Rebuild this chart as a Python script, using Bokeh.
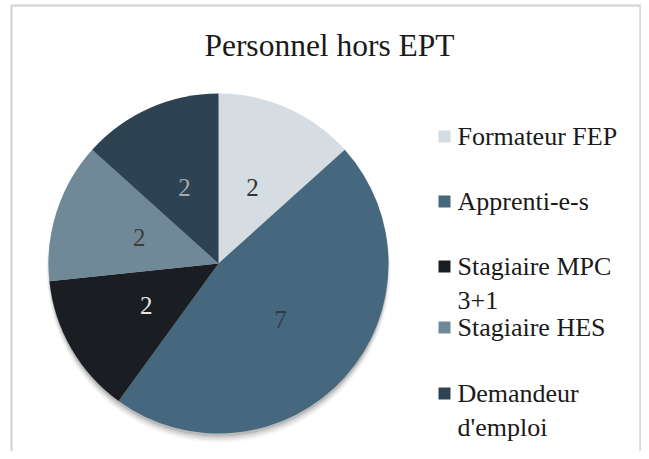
import math
from bokeh.plotting import figure
from bokeh.models import ColumnDataSource, Label, LabelSet
from bokeh.embed import file_html
from bokeh.resources import INLINE

# ---- data ----
title = "Personnel hors EPT"
categories = ["Formateur FEP", "Apprenti-e-s", "Stagiaire MPC 3+1", "Stagiaire HES", "Demandeur d'emploi"]
legend_labels = ["Formateur FEP", "Apprenti-e-s", "Stagiaire MPC\n3+1", "Stagiaire HES", "Demandeur\nd'emploi"]
values = [2, 7, 2, 2, 2]

# ---- styles ----
colors = ["#d5dce2", "#46687f", "#1a1e22", "#708999", "#2d4252"]
label_colors = ["#333333", "#2e3a44", "#e6e6e6", "#3c3c3c", "#a9a9a9"]
SERIF = "Liberation Serif"

W, H = 641, 451
p = figure(width=W, height=H, x_range=(0, W), y_range=(0, H),
           output_backend="svg", toolbar_location=None, min_border=0)
p.axis.visible = False
p.grid.visible = False
p.outline_line_color = None
p.background_fill_color = "white"
p.border_fill_color = "white"

# frame border
p.quad(left=[11], right=[640], top=[H - 5], bottom=[-20], fill_color=None,
       line_color="#d9d9d9", line_width=2.5)

cx, cy, R = 218, H - 263, 170

# angles (start at top, clockwise)
total = sum(values)
starts, ends, mids = [], [], []
a = math.pi / 2
for v in values:
    sweep = 2 * math.pi * v / total
    starts.append(a - sweep)
    ends.append(a)
    mids.append(a - sweep / 2)
    a -= sweep

# soft shadow under the pie
for off, rr, al in [(7, 172, 0.04), (6, 171, 0.06), (5, 170, 0.08), (3, 170, 0.12)]:
    p.circle(x=[cx], y=[cy - off], radius=rr, fill_color="black", fill_alpha=al, line_color=None)

src = ColumnDataSource(dict(cat=categories, val=values, start=starts, end=ends, color=colors))
p.wedge(x=cx, y=cy, radius=R, start_angle="start", end_angle="end",
        fill_color="color", line_color=None, source=src)

lr = 0.49 * R
lab = ColumnDataSource(dict(
    x=[cx + lr * math.cos(m) for m in mids],
    y=[cy + lr * math.sin(m) for m in mids],
    t=[str(v) for v in values],
    c=label_colors))
p.add_layout(LabelSet(x="x", y="y", text="t", text_color="c", source=lab, text_font=SERIF,
                      text_font_size="25px", text_align="center", text_baseline="middle"))

# title
p.add_layout(Label(x=329, y=H - 45, text=title, text_font=SERIF, text_font_size="31.5px",
                   text_align="center", text_baseline="middle", text_color="#1a1a1a"))

# legend
leg_px = [136, 201, 266, 327, 393]
leg_y = [H - v for v in leg_px]
p.rect(x=[444] * len(categories), y=leg_y, width=12, height=12, fill_color=colors,
       line_color=None)
for yy, t in zip(leg_y, legend_labels):
    p.add_layout(Label(x=457, y=yy + 15, text=t, text_font=SERIF, text_font_size="26px",
                       text_align="left", text_baseline="top", text_color="#1a1a1a",
                       text_line_height=1.2))

open("out.html", "w").write(file_html(p, INLINE))
